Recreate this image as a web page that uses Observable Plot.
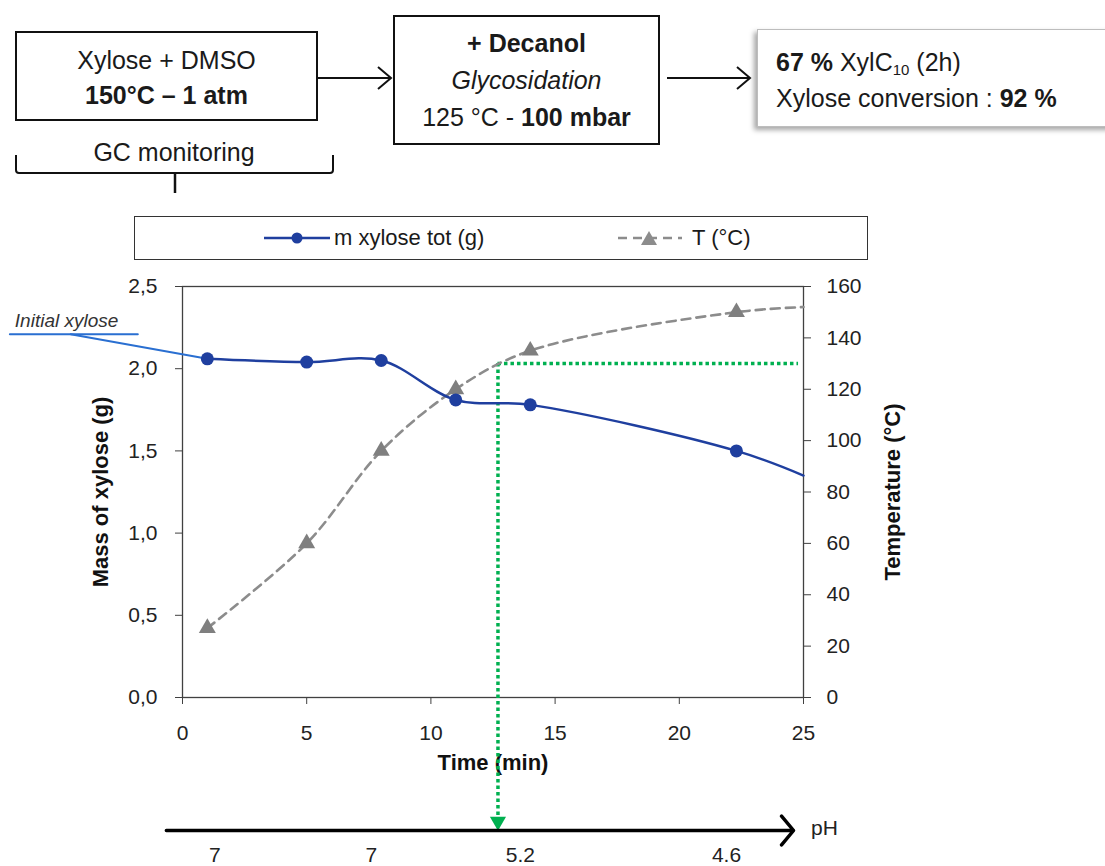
<!DOCTYPE html>
<html>
<head>
<meta charset="utf-8">
<script src="https://cdn.jsdelivr.net/npm/d3@7"></script>
<script src="https://cdn.jsdelivr.net/npm/@observablehq/plot@0.6"></script>
<style>
  html, body { margin: 0; padding: 0; background: #fff; }
  body { width: 1105px; height: 866px; overflow: hidden; font-family: "Liberation Sans", Arial, sans-serif; color: #1a1a1a; }
  #head { position: relative; width: 1105px; height: 270px; }
  #head svg.deco { position: absolute; left: 0; top: 0; }
  .box { position: absolute; box-sizing: border-box; border: 2px solid #111; background: #fff; }
  .line { position: absolute; height: 32px; line-height: 32px; font-size: 25px; white-space: nowrap; }
  .c { text-align: center; }
  .legend { position: absolute; left: 134px; top: 216px; width: 734px; height: 44px; box-sizing: border-box; border: 1.5px solid #333; background: #fff; }
  .leg { position: absolute; font-size: 22px; line-height: 30px; height: 30px; top: 223px; white-space: nowrap; color: #1a1a1a; }
  #chart svg { display: block; }
</style>
</head>
<body>
<div id="head">
  <svg class="deco" width="1105" height="270">
    <line x1="317" y1="78" x2="390" y2="78" stroke="#111" stroke-width="2"/>
    <path d="M378,67 L391,78 L378,89" fill="none" stroke="#111" stroke-width="2"/>
    <line x1="667" y1="78" x2="749" y2="78" stroke="#111" stroke-width="2"/>
    <path d="M737,67 L750,78 L737,89" fill="none" stroke="#111" stroke-width="2"/>
    <path d="M16,155 L16,170 Q16,173 19,173 L330,173 Q333,173 333,170 L333,155" fill="none" stroke="#111" stroke-width="2"/>
    <line x1="175" y1="173" x2="175" y2="193" stroke="#111" stroke-width="2.5"/>
  </svg>
  <div class="box" style="left:15px;top:31px;width:303px;height:90px;"></div>
  <div class="line c" style="left:15px;width:303px;top:44px;">Xylose + DMSO</div>
  <div class="line c" style="left:15px;width:303px;top:79px;font-weight:bold;">150°C – 1 atm</div>
  <div class="line c" style="left:15px;width:318px;top:136px;">GC monitoring</div>

  <div class="box" style="left:393px;top:15px;width:267px;height:130px;"></div>
  <div class="line c" style="left:393px;width:267px;top:27px;font-weight:bold;">+ Decanol</div>
  <div class="line c" style="left:393px;width:267px;top:64px;font-style:italic;">Glycosidation</div>
  <div class="line c" style="left:393px;width:267px;top:101px;">125 °C - <b>100 mbar</b></div>

  <div class="box" style="left:757px;top:29px;width:370px;height:98px;border:1px solid #bdbdbd;box-shadow:-3px 3px 5px rgba(0,0,0,0.35);"></div>
  <div class="line" style="left:776px;top:46px;"><b>67 %</b> XylC<sub style="font-size:15px;vertical-align:-4px;line-height:0;">10</sub> (2h)</div>
  <div class="line" style="left:776px;top:82px;">Xylose conversion : <b>92 %</b></div>

  <div class="legend"></div>
  <svg class="deco" width="1105" height="270" style="pointer-events:none">
    <line x1="264" y1="238" x2="330" y2="238" stroke="#1f3f9f" stroke-width="2.5"/>
    <circle cx="297" cy="238" r="5.5" fill="#1f3f9f"/>
    <line x1="618" y1="238" x2="682" y2="238" stroke="#8c8c8c" stroke-width="2.5" stroke-dasharray="9,6"/>
    <path d="M641,245 L657,245 L649,231 Z" fill="#8c8c8c"/>
  </svg>
  <div class="leg" style="left:334px;">m xylose tot (g)</div>
  <div class="leg" style="left:692px;">T (°C)</div>
</div>
<div id="chart"></div>
<script>
// ---- data ----
const times = [1, 5, 8, 11, 14, 22.3];                 // sampling times (min)
const massXylose = [2.06, 2.04, 2.05, 1.81, 1.78, 1.50]; // m xylose tot (g)
const temperatureC = [27, 60, 96, 120, 135, 150];      // T (°C)
const curveEndTime = 25;                               // curves continue to the axis end
const massAtCurveEnd = 1.35;
const tempAtCurveEnd = 152;
const initialXylose = 2.21;                            // "Initial xylose" level (g)
const initialLineTimes = [-6.95, -1.8];
const initialSlopeStartTime = -4.5;
const switchTime = 12.7;                               // switch to glycosidation (min)
const switchTemp = 130;                                // °C
const switchLineEndTime = 24.8;
const phTimes = [1.3, 7.6, 13.6, 21.9];
const phValues = ["7", "7", "5.2", "4.6"];
const phArrowTimes = [-0.65, 24.6];
const xTicks = [0, 5, 10, 15, 20, 25];
const massTicks = [0, 0.5, 1.0, 1.5, 2.0, 2.5];
const tempTicks = [0, 20, 40, 60, 80, 100, 120, 140, 160];
const massMax = 2.5, tempMax = 160;

// ---- derived tables ----
const k = massMax / tempMax; // temperature -> left-axis units
const massPts = times.map((t, i) => ({t, v: massXylose[i]}));
const tempPts = times.map((t, i) => ({t, v: temperatureC[i] * k}));
const massLine = massPts.concat([{t: curveEndTime, v: massAtCurveEnd}]);
const tempLine = tempPts.concat([{t: curveEndTime, v: tempAtCurveEnd * k}]);
const initLine = initialLineTimes.map(t => ({t, v: initialXylose}));
const initSlope = [{t: initialSlopeStartTime, v: initialXylose}, massPts[0]];
const phLabels = phTimes.map((t, i) => ({t, label: phValues[i]}));

const blue = "#1f3f9f", grey = "#8c8c8c", green = "#00b050";
const dots = "3.5,3";

const chart = Plot.plot({
  width: 1105,
  height: 596,
  marginTop: 16,
  marginBottom: 169,
  marginLeft: 182,
  marginRight: 302,
  x: {domain: [0, 25]},
  y: {domain: [0, massMax]},
  style: {fontFamily: "'Liberation Sans', Arial, sans-serif", fontSize: "21px", color: "#222", background: "#fff", overflow: "visible"},
  marks: [
    Plot.frame({stroke: "#404040", strokeWidth: 1.3}),
    Plot.axisX({ticks: xTicks, tickSize: 7, tickPadding: 21, label: null, stroke: "#404040"}),
    Plot.axisY({anchor: "left", ticks: massTicks, tickFormat: d => d.toFixed(1).replace(".", ","), tickSize: 7, tickPadding: 18, label: null, stroke: "#404040"}),
    Plot.axisY({anchor: "right", ticks: tempTicks.map(t => t * k), tickFormat: d => String(Math.round(d / k)), tickSize: 7, tickPadding: 16, label: null, stroke: "#404040"}),
    Plot.text(["Mass of xylose (g)"], {frameAnchor: "left", textAnchor: "middle", lineAnchor: "middle", rotate: -90, dx: -82, fontWeight: "bold", fontSize: 22, fill: "#111"}),
    Plot.text(["Temperature (°C)"], {frameAnchor: "right", textAnchor: "middle", lineAnchor: "middle", rotate: -90, dx: 89, fontWeight: "bold", fontSize: 22, fill: "#111"}),
    Plot.text(["Time (min)"], {frameAnchor: "bottom", lineAnchor: "middle", dy: 65, fontWeight: "bold", fontSize: 22, fill: "#111"}),

    // green switch lines
    Plot.ruleY([switchTemp * k], {x1: switchTime, x2: switchLineEndTime, stroke: green, strokeWidth: 3.5, strokeDasharray: dots}),
    Plot.ruleX([switchTime], {y1: switchTemp * k, y2: 0, insetBottom: -118, stroke: green, strokeWidth: 3.5, strokeDasharray: dots}),
    Plot.dot([switchTime], {x: d => d, y: 0, dy: 124, symbol: "triangle", rotate: 180, r: 6, fill: green, stroke: "none"}),

    // initial xylose annotation
    Plot.line(initLine, {x: "t", y: "v", stroke: "#2a6fd1", strokeWidth: 2}),
    Plot.line(initSlope, {x: "t", y: "v", stroke: "#2a6fd1", strokeWidth: 2}),
    Plot.text(["Initial xylose"], {x: initialLineTimes[0] + 0.2, y: initialXylose, dy: -13, textAnchor: "start", fontStyle: "italic", fontSize: 19, fill: "#333"}),

    // temperature
    Plot.line(tempLine, {x: "t", y: "v", curve: "catmull-rom", stroke: grey, strokeWidth: 2.6, strokeDasharray: "9,6"}),
    Plot.dot(tempPts, {x: "t", y: "v", symbol: "triangle", r: 6.3, fill: "#7f7f7f", stroke: "none"}),

    // xylose mass
    Plot.line(massLine, {x: "t", y: "v", curve: "catmull-rom", stroke: blue, strokeWidth: 2.5}),
    Plot.dot(massPts, {x: "t", y: "v", r: 6.5, fill: blue, stroke: "none"}),

    // pH axis
    Plot.arrow([{a: phArrowTimes[0], b: phArrowTimes[1]}], {x1: "a", x2: "b", y1: () => 0, y2: () => 0, dy: 133, stroke: "#000", strokeWidth: 3.5, headLength: 8, headAngle: 100}),
    Plot.text(["pH"], {x: 25.3, y: 0, dy: 131, textAnchor: "start", fontSize: 21, fill: "#222"}),
    Plot.text(phLabels, {x: "t", y: () => 0, text: "label", dy: 158, fontSize: 21, fill: "#222"})
  ]
});
document.getElementById("chart").appendChild(chart);
</script>
</body>
</html>
